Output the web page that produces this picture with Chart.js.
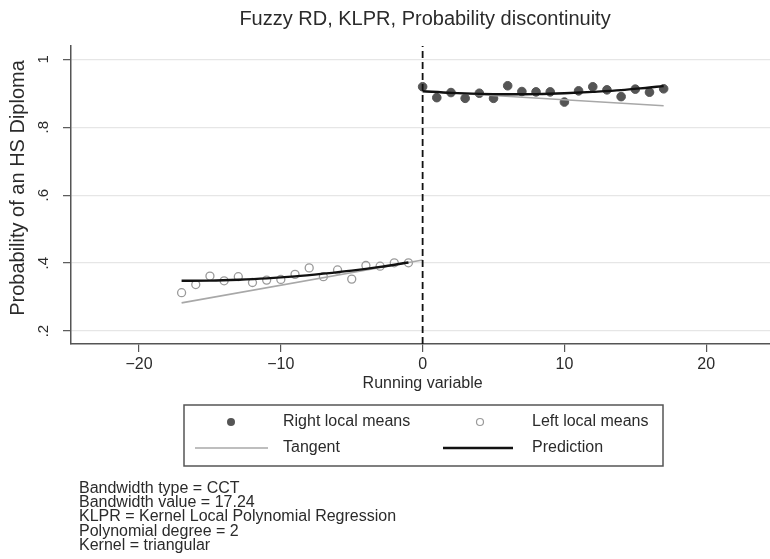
<!DOCTYPE html>
<html>
<head>
<meta charset="utf-8">
<script src="https://cdn.jsdelivr.net/npm/chart.js@4/dist/chart.umd.min.js"></script>
<style>
  html, body { margin: 0; padding: 0; background: #ffffff; overflow: hidden; }
  #wrap { width: 770px; height: 559px; position: relative; }
  canvas { display: block; }
</style>
</head>
<body>
<div id="wrap"><canvas id="rdChart"></canvas></div>
<script>
// Fuzzy RD plot — local means, tangent and prediction either side of the cutoff

const chartTitle = 'Fuzzy RD, KLPR, Probability discontinuity';
const xAxisTitle = 'Running variable';
const yAxisTitle = 'Probability of an HS Diploma';

const xTicks = [-20, -10, 0, 10, 20];
const xTickLabels = ['\u221220', '\u221210', '0', '10', '20'];
const yTicks = [0.2, 0.4, 0.6, 0.8, 1];
const yTickLabels = ['.2', '.4', '.6', '.8', '1'];

const cutoff = 0;

// local means
const leftX = [-17, -16, -15, -14, -13, -12, -11, -10, -9, -8, -7, -6, -5, -4, -3, -2, -1];
const leftY = [0.313, 0.337, 0.362, 0.348, 0.360, 0.343, 0.350, 0.352, 0.367, 0.386, 0.360, 0.380, 0.353, 0.393, 0.391, 0.401, 0.401];
const rightX = [0, 1, 2, 3, 4, 5, 6, 7, 8, 9, 10, 11, 12, 13, 14, 15, 16, 17];
const rightY = [0.919, 0.887, 0.902, 0.885, 0.900, 0.885, 0.922, 0.905, 0.904, 0.904, 0.874, 0.907, 0.919, 0.910, 0.890, 0.912, 0.903, 0.913];

// fitted curves
const predLeftX = [-17, -15, -13, -11, -9, -7, -5, -3, -1];
const predLeftY = [0.348, 0.3485, 0.351, 0.355, 0.361, 0.369, 0.378, 0.389, 0.402];
const predRightX = [0, 2, 4, 6, 8, 10, 12, 14, 16, 17];
const predRightY = [0.906, 0.901, 0.898, 0.897, 0.8975, 0.900, 0.904, 0.909, 0.917, 0.921];
const tanLeftX = [-17, 0];
const tanLeftY = [0.283, 0.409];
const tanRightX = [0, 17];
const tanRightY = [0.906, 0.863];

const legendLabels = ['Right local means', 'Left local means', 'Tangent', 'Prediction'];

const notes = [
    'Bandwidth type = CCT',
    'Bandwidth value = 17.24',
    'KLPR = Kernel Local Polynomial Regression',
    'Polynomial degree = 2',
    'Kernel = triangular'
];

const X_MIN = -24.8, X_MAX = 24.5;
const Y_MIN = 0.162, Y_MAX = 1.039;

const FONT = "'Liberation Sans', Arial, Helvetica, sans-serif";
const TEXT_COLOR = '#2b2b2b';
const AXIS_COLOR = '#555555';
const GRID_COLOR = '#e6e6e6';
const DOT_COLOR = '#555555';
const HOLLOW_COLOR = '#9a9a9a';
const TANGENT_COLOR = '#a8a8a8';
const PRED_COLOR = '#111111';

function pairs(xs, ys) {
    return xs.map((x, i) => ({ x: x, y: ys[i] }));
}

const textPlugin = {
    id: 'textPlugin',
    afterDraw(chart) {
        const ctx = chart.ctx;
        const yScale = chart.scales.y;
        ctx.save();
        ctx.fillStyle = TEXT_COLOR;

        // title
        ctx.font = '20px ' + FONT;
        ctx.textAlign = 'center';
        ctx.textBaseline = 'middle';
        ctx.fillText(chartTitle, 425, 19);

        // y title
        ctx.save();
        ctx.translate(18, 188);
        ctx.rotate(-Math.PI / 2);
        ctx.font = '20px ' + FONT;
        ctx.fillText(yAxisTitle, 0, 0);
        ctx.restore();

        // y tick labels, rotated like stata
        ctx.font = '15px ' + FONT;
        yTicks.forEach((v, i) => {
            ctx.save();
            ctx.translate(44, yScale.getPixelForValue(v));
            ctx.rotate(-Math.PI / 2);
            ctx.fillText(yTickLabels[i], 0, 0);
            ctx.restore();
        });

        // x title
        ctx.font = '16px ' + FONT;
        ctx.fillText(xAxisTitle, chart.scales.x.getPixelForValue(cutoff), 384);

        // legend box
        const bx = 184, by = 405, bw = 479, bh = 61;
        ctx.fillStyle = '#ffffff';
        ctx.fillRect(bx, by, bw, bh);
        ctx.strokeStyle = '#555555';
        ctx.lineWidth = 1.5;
        ctx.strokeRect(bx, by, bw, bh);

        const row1 = 422, row2 = 448;
        // right local means marker
        ctx.beginPath();
        ctx.arc(231, row1, 4, 0, Math.PI * 2);
        ctx.fillStyle = DOT_COLOR;
        ctx.fill();
        // left local means marker
        ctx.beginPath();
        ctx.arc(480, row1, 3.5, 0, Math.PI * 2);
        ctx.strokeStyle = HOLLOW_COLOR;
        ctx.lineWidth = 1.2;
        ctx.stroke();
        // tangent line
        ctx.beginPath();
        ctx.moveTo(195, row2);
        ctx.lineTo(268, row2);
        ctx.strokeStyle = TANGENT_COLOR;
        ctx.lineWidth = 1.6;
        ctx.stroke();
        // prediction line
        ctx.beginPath();
        ctx.moveTo(443, row2);
        ctx.lineTo(513, row2);
        ctx.strokeStyle = PRED_COLOR;
        ctx.lineWidth = 2.4;
        ctx.stroke();

        ctx.fillStyle = TEXT_COLOR;
        ctx.font = '16px ' + FONT;
        ctx.textAlign = 'left';
        ctx.fillText(legendLabels[0], 283, row1);
        ctx.fillText(legendLabels[1], 532, row1);
        ctx.fillText(legendLabels[2], 283, row2);
        ctx.fillText(legendLabels[3], 532, row2);

        // notes
        ctx.font = '16px ' + FONT;
        ctx.textBaseline = 'alphabetic';
        notes.forEach((line, i) => {
            ctx.fillText(line, 79, 493 + i * 14.2);
        });

        ctx.restore();
    }
};

const datasets = [
    {
        label: 'Prediction left',
        data: pairs(predLeftX, predLeftY),
        showLine: true,
        borderColor: PRED_COLOR,
        borderWidth: 2.4,
        pointRadius: 0,
        cubicInterpolationMode: 'monotone'
    },
    {
        label: 'Prediction right',
        data: pairs(predRightX, predRightY),
        showLine: true,
        borderColor: PRED_COLOR,
        borderWidth: 2.4,
        pointRadius: 0,
        cubicInterpolationMode: 'monotone'
    },
    {
        label: 'Cutoff',
        data: [{ x: cutoff, y: Y_MIN }, { x: cutoff, y: Y_MAX }],
        showLine: true,
        borderColor: '#111111',
        borderWidth: 1.8,
        borderDash: [7, 4],
        pointRadius: 0
    },
    {
        label: 'Tangent left',
        data: pairs(tanLeftX, tanLeftY),
        showLine: true,
        borderColor: TANGENT_COLOR,
        borderWidth: 1.6,
        pointRadius: 0
    },
    {
        label: 'Tangent right',
        data: pairs(tanRightX, tanRightY),
        showLine: true,
        borderColor: TANGENT_COLOR,
        borderWidth: 1.6,
        pointRadius: 0
    },
    {
        label: legendLabels[0],
        data: pairs(rightX, rightY),
        backgroundColor: DOT_COLOR,
        borderColor: DOT_COLOR,
        borderWidth: 1,
        pointRadius: 4.3
    },
    {
        label: legendLabels[1],
        data: pairs(leftX, leftY),
        backgroundColor: 'rgba(255,255,255,0)',
        borderColor: HOLLOW_COLOR,
        borderWidth: 1.3,
        pointRadius: 4
    }
];

Chart.defaults.font.family = FONT;
Chart.defaults.color = TEXT_COLOR;

new Chart(document.getElementById('rdChart'), {
    type: 'scatter',
    data: { datasets: datasets },
    plugins: [textPlugin],
    options: {
        responsive: true,
        maintainAspectRatio: false,
        animation: false,
        // autoPadding would keep a few px free on the right for point radius
        layout: { autoPadding: false, padding: { top: 46, right: 0, bottom: 164, left: 0 } },
        plugins: {
            legend: { display: false },
            tooltip: { enabled: false },
            title: { display: false }
        },
        scales: {
            x: {
                type: 'linear',
                min: X_MIN,
                max: X_MAX,
                afterBuildTicks: (scale) => { scale.ticks = xTicks.map(v => ({ value: v })); },
                afterFit: (scale) => { scale.height = 51; },
                border: { display: true, color: AXIS_COLOR, width: 1.5 },
                grid: { drawOnChartArea: false, drawTicks: true, tickLength: 8, color: AXIS_COLOR, lineWidth: 1.2 },
                ticks: {
                    color: TEXT_COLOR,
                    font: { size: 16 },
                    padding: 3,
                    maxRotation: 0,
                    callback: (v) => xTickLabels[xTicks.indexOf(v)]
                }
            },
            y: {
                type: 'linear',
                min: Y_MIN,
                max: Y_MAX,
                afterBuildTicks: (scale) => { scale.ticks = yTicks.map(v => ({ value: v })); },
                afterFit: (scale) => { scale.width = 71; },
                border: { display: true, color: AXIS_COLOR, width: 1.5 },
                grid: { color: GRID_COLOR, lineWidth: 1.3, drawTicks: true, tickLength: 8, tickColor: AXIS_COLOR, tickWidth: 1.2 },
                ticks: { display: false }
            }
        }
    }
});
</script>
</body>
</html>
